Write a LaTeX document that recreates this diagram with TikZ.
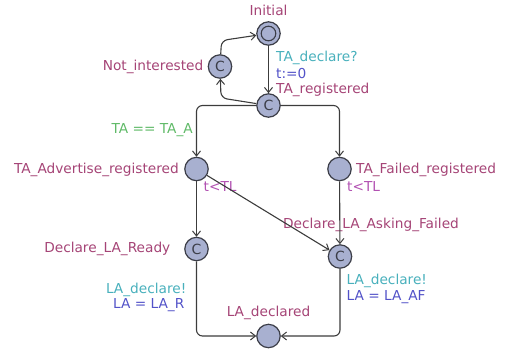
\documentclass[tikz,border=0pt]{standalone}
\usepackage{fontspec}
\setmainfont{DejaVu Sans}
\usetikzlibrary{arrows.meta}
\definecolor{locname}{RGB}{165,68,118}
\definecolor{syncc}{RGB}{72,176,188}
\definecolor{assignc}{RGB}{82,82,200}
\definecolor{guardc}{RGB}{96,186,104}
\definecolor{invc}{RGB}{178,82,178}
\definecolor{locfill}{RGB}{168,176,208}
\definecolor{locdraw}{RGB}{60,62,72}
\definecolor{edgec}{RGB}{60,60,60}
\tikzset{
  loc/.style={circle, draw=locdraw, fill=locfill, line width=1.2pt, minimum size=23.4pt, inner sep=0pt, font=\fontsize{14}{15}\selectfont, text=locdraw},
  edge/.style={draw=edgec, line width=1.1pt, -{Straight Barb[length=5pt,width=8pt,line width=1pt]}, rounded corners=6pt},
  lbl/.style={inner sep=0pt, font=\fontsize{13.7}{15}\selectfont},
  nm/.style={lbl, text=locname},
  sy/.style={lbl, text=syncc},
  as/.style={lbl, text=assignc},
  gd/.style={lbl, text=guardc},
  iv/.style={lbl, text=invc}
}
\begin{document}
\begin{tikzpicture}[x=1pt,y=-1pt]
\useasboundingbox (0,0) rectangle (505,349);
% locations
\node[loc] (Init) at (268.5,33.5) {};
\draw[locdraw, line width=1.1pt] (Init.center) circle[radius=7.3pt];
\node[loc] (NI) at (220,66.5) {C};
\node[loc] (TAreg) at (268.5,105.5) {C};
\node[loc] (TAadv) at (196.5,169) {};
\node[loc] (TAfail) at (339.5,169) {};
\node[loc] (DLR) at (196.5,249) {C};
\node[loc] (DLAF) at (340,256.5) {C};
\node[loc] (LAd) at (268.5,336) {};
% location names
\node[nm] (nInit) at (268.5,10) {Initial};
\node[nm, anchor=east] (nNI) at (203.5,66.5) {Not\_interested};
\node[nm, anchor=west] (nTAreg) at (276,89.5) {TA\_registered};
\node[nm, anchor=east] (nTAadv) at (179,169.5) {TA\_Advertise\_registered};
\node[nm, anchor=west] (nTAfail) at (356,169.5) {TA\_Failed\_registered};
\node[nm, anchor=east] (nDLR) at (170.5,249) {Declare\_LA\_Ready};
\node[nm] (nDLAF) at (371,225) {Declare\_LA\_Asking\_Failed};
\node[nm] (nLAd) at (268.5,313) {LA\_declared};
% invariants
\node[iv, anchor=west] (iTAadv) at (203.5,186) {t<TL};
\node[iv, anchor=west] (iTAfail) at (347,186) {t<TL};
% edges
\draw[edge] (Init) -- (TAreg);
\draw[edge] (TAreg) -- (221,98) -- (NI);
\draw[edge] (NI) -- (221.5,40.5) -- (Init);
\draw[edge] (TAreg) -| (TAadv);
\draw[edge] (TAreg) -| (TAfail);
\draw[edge] (TAadv) -- (DLR);
\draw[edge] (TAadv) -- (DLAF);
\draw[edge] (TAfail) -- (DLAF);
\draw[edge] (DLR) |- (LAd);
\draw[edge] (DLAF) |- (LAd);
% edge labels
\node[sy, anchor=west] (s1) at (276,57.5) {TA\_declare?};
\node[as, anchor=west] (a1) at (276,73.5) {t:=0};
\node[gd, anchor=east] (g1) at (193,130) {TA == TA\_A};
\node[sy, anchor=east] (s2) at (186.5,289.5) {LA\_declare!};
\node[as, anchor=east] (a2) at (184.5,305.5) {LA = LA\_R};
\node[sy, anchor=west] (s3) at (346.5,281) {LA\_declare!};
\node[as, anchor=west] (a3) at (346.5,297) {LA = LA\_AF};
\end{tikzpicture}
\end{document}
